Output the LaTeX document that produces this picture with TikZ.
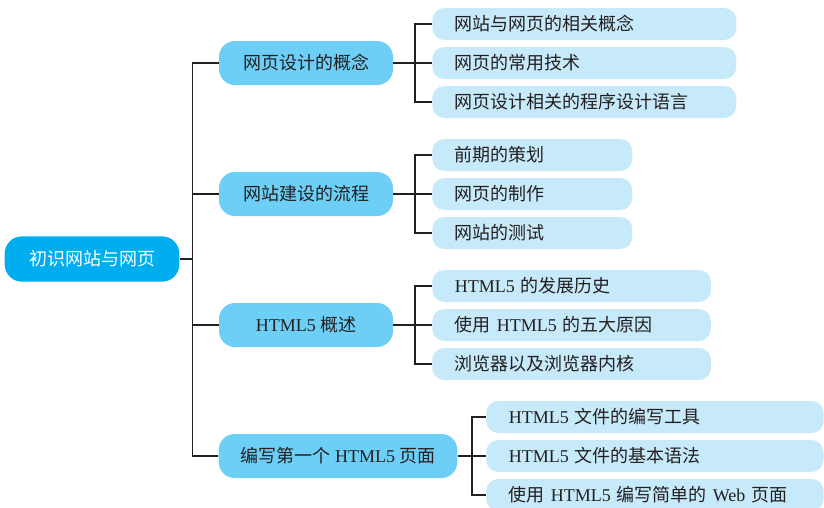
\documentclass[tikz,border=0pt]{standalone}
\usepackage{fontspec}
\setmainfont{Noto Sans CJK SC}
\newfontfamily\latin{Liberation Serif}
\definecolor{rootblue}{HTML}{00AEEF}
\definecolor{midblue}{HTML}{6DCFF6}
\definecolor{paleblue}{HTML}{C7EAFA}
\definecolor{ink}{HTML}{231F20}

\begin{document}
\begin{tikzpicture}[x=0.75pt, y=-0.75pt,
    font=\fontsize{13.5}{16}\selectfont, text=ink,
    rootbox/.style={fill=rootblue, text=white, rounded corners=13pt,
        minimum width=131pt, minimum height=34pt},
    topic/.style={fill=midblue, rounded corners=12pt,
        minimum width=130.5pt, minimum height=33pt},
    leaf/.style={fill=paleblue, rounded corners=9pt, anchor=west,
        minimum height=24pt, inner xsep=17pt, align=left},
    link/.style={draw=ink, line width=1pt}]
    \useasboundingbox (0,0) rectangle (824,507);

    \node[rootbox] (R) at (92,259) {初识网站与网页};

    \node[topic] (P1) at (306,63)  {网页设计的概念};
    \node[topic] (P2) at (306,194) {网站建设的流程};
    \node[topic] (P3) at (306,325) {{\latin HTML5\ }概述};
    \node[topic, minimum width=179pt] (P4) at (338,456) {编写第一个{\latin\ HTML5\ }页面};

    \node[leaf, text width=194pt] (A1) at (432,24)  {网站与网页的相关概念};
    \node[leaf, text width=194pt] (A2) at (432,63)  {网页的常用技术};
    \node[leaf, text width=194pt] (A3) at (432,102) {网页设计相关的程序设计语言};

    \node[leaf, text width=116pt] (B1) at (432,155) {前期的策划};
    \node[leaf, text width=116pt] (B2) at (432,194) {网页的制作};
    \node[leaf, text width=116pt] (B3) at (432,233) {网站的测试};

    \node[leaf, text width=175pt] (C1) at (432,286) {{\latin HTML5\ }的发展历史};
    \node[leaf, text width=175pt] (C2) at (432,325) {使用{\latin\ HTML5\ }的五大原因};
    \node[leaf, text width=175pt] (C3) at (432,364) {浏览器以及浏览器内核};

    \node[leaf, text width=219pt] (D1) at (486,417) {{\latin HTML5\ }文件的编写工具};
    \node[leaf, text width=219pt] (D2) at (486,456) {{\latin HTML5\ }文件的基本语法};
    \node[leaf, text width=219pt] (D3) at (486,495) {使用{\latin\ HTML5\ }编写简单的{\latin\ Web\ }页面};

    % trunk from the root
    \coordinate (T) at (193,259);
    \path[link] (R.east) -- (T);
    \path[link] (P1.west) -- ++(-26,0) |- (P4.west);
    \path[link] (P2.west) -- ++(-26,0);
    \path[link] (P3.west) -- ++(-26,0);

    % branches
    \path[link] (P1.east) -- (A2.west);
    \path[link] (A1.west) -- ++(-17,0) |- (A3.west);
    \path[link] (P2.east) -- (B2.west);
    \path[link] (B1.west) -- ++(-17,0) |- (B3.west);
    \path[link] (P3.east) -- (C2.west);
    \path[link] (C1.west) -- ++(-17,0) |- (C3.west);
    \path[link] (P4.east) -- (D2.west);
    \path[link] (D1.west) -- ++(-14,0) |- (D3.west);
\end{tikzpicture}
\end{document}
